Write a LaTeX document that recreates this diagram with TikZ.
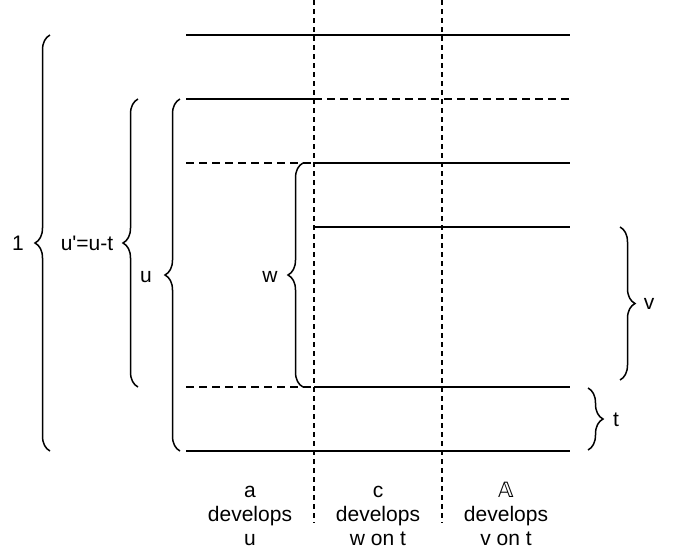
\documentclass[tikz,border=0pt]{standalone}
\usepackage{fontspec}
\setmainfont{Liberation Sans}
\newfontfamily\dsfont{DejaVu Sans}
\usetikzlibrary{decorations.pathreplacing}

\begin{document}
\begin{tikzpicture}[%
    x=1pt, y=-1pt,              % pixel-like grid, origin top left
    font=\fontsize{21}{24}\selectfont,
    ]
% -------------------------------------------------
% A few styles
\tikzset{
  solid line/.style={draw, line width=1.6pt},
  dash line/.style={draw, line width=1.6pt, dash pattern=on 8pt off 5pt},
  col/.style={draw, line width=1.1pt, dash pattern=on 5pt off 4pt},
  brc/.style={draw, line width=1.5pt, decorate,
              decoration={brace, amplitude=15pt, raise=0pt}},
  lbl/.style={inner sep=0pt, anchor=center},
  legend/.style={lbl, align=center}
}
\useasboundingbox (0,0) rectangle (673,552);
% -------------------------------------------------
% Column separators
\draw[col] (314,0) -- (314,523);
\draw[col] (442,0) -- (442,523);

% Levels
\draw[solid line] (186,35) -- (570,35);
\draw[solid line] (186,99) -- (314,99);
\draw[dash line]  (314,99) -- (570,99);
\draw[dash line]  (186,163) -- (314,163);
\draw[solid line] (314,163) -- (570,163);
\draw[solid line] (314,227) -- (570,227);
\draw[dash line]  (186,387) -- (314,387);
\draw[solid line] (314,387) -- (570,387);
\draw[solid line] (186,451) -- (570,451);

% -------------------------------------------------
% Braces and their labels
\draw[brc] (50,451) -- (50,35);       % 1
\node[lbl] (one) at (18,243) {1};
\draw[brc] (138,387) -- (138,99);     % u'=u-t
\node[lbl] (uprime) at (87,243) {u\textquotesingle=u-t};
\draw[brc] (180,451) -- (180,99);     % u
\node[lbl] (u) at (146,277) {u};
\draw[brc] (303,387) -- (303,163);    % w
\node[lbl] (w) at (270,277) {w};
\draw[brc] (620,227) -- (620,380);    % v
\node[lbl] (v) at (649,304) {v};
\draw[brc] (588,388) -- (588,450);    % t
\node[lbl] (t) at (616,420) {t};

% -------------------------------------------------
% Column legends
\node[legend] (colA) at (250,513) {\strut a\\develops\\u};
\node[legend] (colC) at (378,513) {\strut c\\develops\\w on t};
\node[legend] (colD) at (506,513) {\strut{\dsfont 𝔸}\\develops\\v on t};
\end{tikzpicture}
\end{document}
